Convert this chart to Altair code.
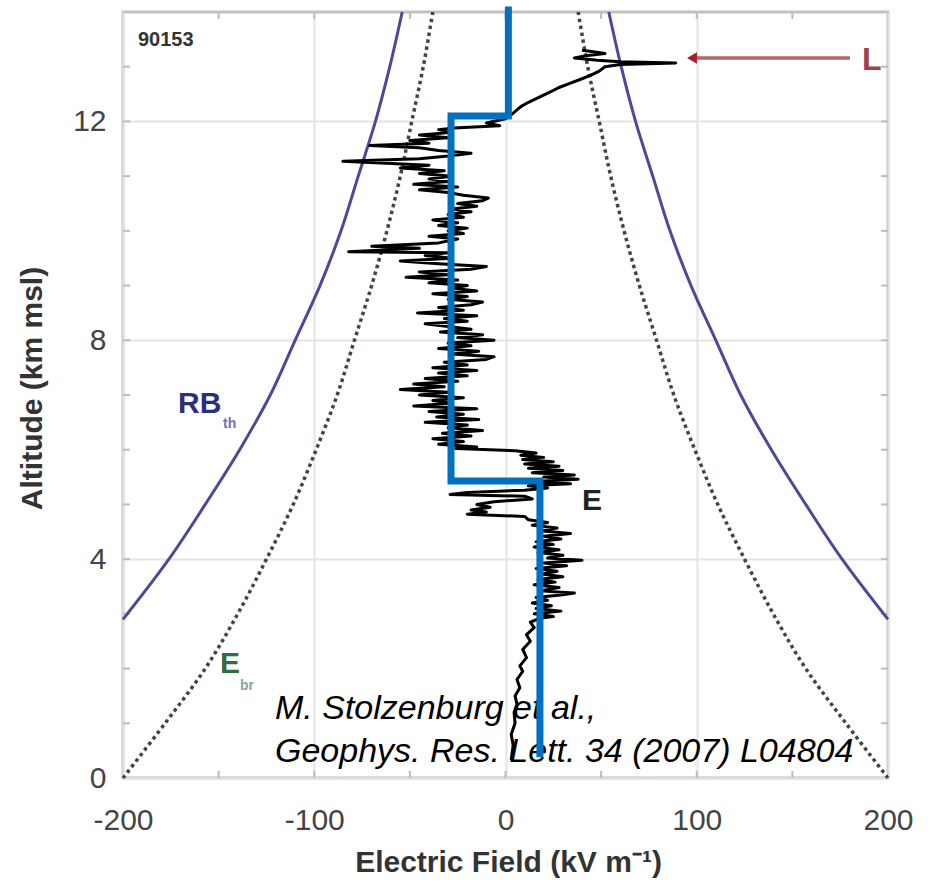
import altair as alt
import pandas as pd

# ---------------- data ----------------
# measured electric-field profile E (altitude km, field kV/m), in flight order
trace_alt = [0.33, 0.6, 0.8, 1.0, 1.2, 1.35, 1.5, 1.65, 1.8, 1.95, 2.05, 2.2, 2.35, 2.5,
             2.62, 2.75, 2.85, 2.92,
             2.95, 3.0, 3.05, 3.1, 3.15, 3.2, 3.25, 3.3, 3.35, 3.38, 3.42, 3.48, 3.53, 3.58, 3.63,
             3.68, 3.73, 3.78, 3.83, 3.88, 3.93, 3.98, 4.02, 4.07, 4.12, 4.17, 4.22, 4.27, 4.32,
             4.37, 4.42, 4.47, 4.52, 4.57, 4.62, 4.67, 4.72,
             4.78, 4.82, 4.86, 4.9, 4.95, 5.0, 5.05, 5.1, 5.15, 5.18, 5.22, 5.26, 5.3,
             5.34, 5.38, 5.42, 5.46, 5.5, 5.54, 5.58, 5.62, 5.66, 5.7, 5.74, 5.78, 5.82, 5.86,
             5.9, 5.94, 5.98, 6.02, 6.05,
             6.1, 6.15, 6.2, 6.25, 6.3, 6.35, 6.4, 6.45, 6.5, 6.55, 6.6, 6.65, 6.7, 6.75, 6.8,
             6.85, 6.9, 6.95, 7.0, 7.05, 7.1, 7.15, 7.2, 7.25, 7.3, 7.35,
             7.4, 7.45, 7.5, 7.55, 7.6, 7.65, 7.7, 7.75, 7.8, 7.85, 7.9, 7.95, 8.0, 8.05, 8.1,
             8.15, 8.2, 8.25, 8.3, 8.35, 8.4, 8.45, 8.5, 8.55, 8.6, 8.65, 8.7, 8.75, 8.8, 8.85,
             8.9, 8.95, 9.0, 9.05, 9.1, 9.15, 9.2, 9.25, 9.3, 9.35, 9.4, 9.45, 9.5, 9.55, 9.6,
             9.62, 9.68, 9.72, 9.78, 9.85, 9.9, 9.95, 10.0, 10.05, 10.1, 10.15, 10.2, 10.25,
             10.3, 10.35, 10.4, 10.45, 10.5, 10.55, 10.6, 10.65, 10.7, 10.75, 10.8, 10.85, 10.9,
             10.95, 11.0, 11.05, 11.1, 11.15, 11.2, 11.27, 11.32, 11.37, 11.42, 11.47, 11.52,
             11.56, 11.6, 11.65, 11.7, 11.75, 11.8, 11.85, 11.88, 11.92, 11.97, 12.05, 12.15,
             12.27, 12.35, 12.45, 12.55, 12.62, 12.7, 12.78, 12.85, 12.92, 13.0, 13.04, 13.07,
             13.09, 13.12, 13.16, 13.2, 13.24, 13.28, 13.3]
trace_field = [3, 4, 3, 5, 4.5, 6, 5, 7.5, 6, 9, 7.5, 11, 9, 13,
               11, 15, 13, 18,
               25, 15, 29, 16, 24, 14, 22, 16, 30, 36, 18, 28, 15, 26, 17,
               30, 19, 27, 16, 32, 20, 40, 22, 30, 17, 28, 15, 25, 16,
               29, 20, 34, 18, 27, 14, 22, 12,
               10, -20, -10, -18, -8, -15, -6, 14, 10, -29, -20, 10, 22,
               12, 34, 15, 38, 20, 36, 14, 30, 12, 28, 10, 25, 9, 20,
               8, 16, 5, -26, -15,
               -35, -22, -38, -18, -33, -12, -30, -20, -42, -14, -36, -22, -40, -15, -48,
               -28, -38, -22, -45, -30, -55, -32, -48, -25, -42, -20,
               -35, -15, -38, -20, -32, -10, -6, -28, -14, -35, -18, -30, -6, -25, -12,
               -34, -18, -30, -42, -20, -32, -15, -46, -22, -35, -18, -12, -30, -20, -38,
               -15, -28, -20, -40, -25, -52, -30, -45, -18, -10, -35, -55, -28, -42, -30,
               -82, -45, -70, -35, -25, -40, -22, -30, -20, -35, -25, -38, -22,
               -30, -18, -28, -15, -25, -12, -9, -22, -30, -45, -25, -48, -30,
               -40, -28, -45, -32, -55, -40, -85, -45, -30, -18, -35, -45,
               -71, -40, -50, -30, -45, -28, -35, -27, -3, -10, 0, 4,
               8, 12, 18, 24, 28, 34, 40, 45, 49, 52, 60, 89,
               60, 48, 36, 42, 52, 45, 40]

# runaway-breakdown threshold RB_th (solid curves, both signs)
rb_alt = [2.9, 4, 5, 6, 7, 8, 9, 10, 11, 12, 13, 14]
rb_left = [-200, -176, -157, -139, -123, -110, -97, -86, -77, -68, -60.5, -54]
rb_right = [200, 176, 157, 139, 123, 110, 97, 86, 77, 68, 60.5, 54]

# conventional breakeven field E_br (dotted curves, both signs)
ebr_alt = [0, 1, 2, 3, 4, 5, 6, 7, 8, 9, 10, 11, 12, 13, 14]
ebr_left = [-200, -178, -157, -140, -125, -111, -99, -88, -79, -70, -62, -55, -49, -43, -38]
ebr_right = [200, 178, 157, 140, 125, 111, 99, 88, 79, 70, 62, 55, 49, 43, 38]

# blue stepped overlay
step_alt = [0.38, 5.43, 5.43, 12.1, 12.1, 14.1]
step_field = [18, 18, -28.5, -28.5, 1.5, 1.5]

# axis ticks
x_labels = [-200, -100, 0, 100, 200]
y_labels = [0, 4, 8, 12]
x_minor = [-150, -100, -50, 0, 50, 100, 150]
y_minor = [1, 2, 3, 4, 5, 6, 7, 8, 9, 10, 11, 12, 13]

# ---------------- tables ----------------
W, H = 765, 766
FONT = "Liberation Sans"

trace_df = pd.DataFrame({"z": trace_alt, "E": trace_field, "i": range(len(trace_alt))})
rb_df = pd.concat([
    pd.DataFrame({"z": rb_alt, "E": rb_left, "side": "left", "i": range(len(rb_alt))}),
    pd.DataFrame({"z": rb_alt, "E": rb_right, "side": "right", "i": range(len(rb_alt))}),
])
ebr_df = pd.concat([
    pd.DataFrame({"z": ebr_alt, "E": ebr_left, "side": "left", "i": range(len(ebr_alt))}),
    pd.DataFrame({"z": ebr_alt, "E": ebr_right, "side": "right", "i": range(len(ebr_alt))}),
])
step_df = pd.DataFrame({"z": step_alt, "E": step_field, "i": range(len(step_alt))})
xm_df = pd.DataFrame({"E": x_minor})
ym_df = pd.DataFrame({"z": y_minor})

xscale = alt.Scale(domain=[-200, 200], nice=False, zero=False)
yscale = alt.Scale(domain=[0, 14], nice=False, zero=False)

xaxis = alt.Axis(values=x_labels, grid=True, gridColor="#e4e4e4", gridWidth=2,
                 domain=False, ticks=False, tickSize=0, labelFlush=False,
                 labelExpr="replace(datum.label, '\u2212', '-')",
                 labelFont=FONT, labelFontSize=30, labelColor="#444444",
                 labelBaseline="middle", labelPadding=42,
                 title="Electric Field (kV m⁻¹)", titleFont=FONT, titleFontSize=30,
                 titleFontWeight="bold", titleColor="#333333",
                 titleX=385, titleY=84, titleAlign="center", titleBaseline="middle")
yaxis = alt.Axis(values=y_labels, grid=True, gridColor="#e4e4e4", gridWidth=2,
                 domain=False, ticks=False, tickSize=0, labelFlush=False,
                 labelFont=FONT, labelFontSize=30, labelColor="#444444",
                 labelPadding=17,
                 title="Altitude (km msl)", titleFont=FONT, titleFontSize=30,
                 titleFontWeight="bold", titleColor="#333333",
                 titleX=-91, titleY=376, titleAngle=270, titleAlign="center",
                 titleBaseline="middle")

X = alt.X("E:Q", scale=xscale, axis=xaxis)
Y = alt.Y("z:Q", scale=yscale, axis=yaxis)

# minor ticks on all four sides
tick_style = dict(color="#bdbdbd", strokeWidth=2)
xt_bottom = alt.Chart(xm_df).mark_rule(**tick_style).encode(x=X, y=alt.value(H - 7), y2=alt.value(H))
xt_top = alt.Chart(xm_df).mark_rule(**tick_style).encode(x=X, y=alt.value(0), y2=alt.value(7))
yt_left = alt.Chart(ym_df).mark_rule(**tick_style).encode(y=Y, x=alt.value(0), x2=alt.value(7))
yt_right = alt.Chart(ym_df).mark_rule(**tick_style).encode(y=Y, x=alt.value(W - 7), x2=alt.value(W))

rb_lines = alt.Chart(rb_df).mark_line(color="#4a4a98", strokeWidth=3,
                                      interpolate="catmull-rom").encode(
    x=X, y=Y, detail="side:N", order="i:Q")
ebr_lines = alt.Chart(ebr_df).mark_line(color="#3c4a3e", strokeWidth=3.5, interpolate="catmull-rom",
                                        strokeDash=[3.5, 3.5], strokeCap="butt").encode(
    x=X, y=Y, detail="side:N", order="i:Q")
trace = alt.Chart(trace_df).mark_line(color="#000000", strokeWidth=3, strokeJoin="round").encode(
    x=X, y=Y, order="i:Q")
step = alt.Chart(step_df).mark_line(color="#0070c0", strokeWidth=7, strokeJoin="miter",
                                    strokeCap="butt", clip=False).encode(x=X, y=Y, order="i:Q")

# annotations (pixel positions inside the plot area)
def label(text, x, y, size, color, weight="normal", style="normal", baseline="alphabetic"):
    return alt.Chart(pd.DataFrame({"t": [text]})).mark_text(
        align="left", baseline=baseline, font=FONT, fontSize=size, color=color,
        fontWeight=weight, fontStyle=style).encode(text="t:N", x=alt.value(x), y=alt.value(y))

arrow_line = alt.Chart(pd.DataFrame({"a": [0]})).mark_rule(color="#b86464", strokeWidth=3.5).encode(
    x=alt.value(570), x2=alt.value(727), y=alt.value(46))
arrow_head = alt.Chart(pd.DataFrame({"a": [0]})).mark_point(
    shape="triangle-left", filled=True, color="#a81c2c", size=130, opacity=1).encode(
    x=alt.value(569), y=alt.value(46))

texts = [
    label("90153", 15, 34, 20, "#333333", weight="bold"),
    label("RB", 55, 401, 30, "#2d2d7d", weight="bold"),
    label("th", 100, 416, 14, "#7070b0", weight="bold"),
    label("E", 97, 661, 30, "#2f6e3c", weight="bold"),
    label("br", 117, 678, 14, "#88a890", weight="bold"),
    label("E", 459, 498, 30, "#222222", weight="bold"),
    label("L", 739, 58, 32, "#a0404c", weight="bold"),
    label("M. Stolzenburg et al.,", 152, 707, 34, "#000000", style="italic"),
    label("Geophys. Res. Lett. 34 (2007) L04804", 152, 750, 34, "#000000", style="italic"),
]

chart = alt.layer(
    xt_bottom, xt_top, yt_left, yt_right,
    rb_lines, ebr_lines, trace, *texts, arrow_line, arrow_head, step,
).properties(
    width=W, height=H,
    autosize=alt.AutoSizeParams(type="none"),
    padding={"left": 123, "top": 12, "right": 40, "bottom": 105},
    background="white",
).configure_view(stroke="#c2c2c2", strokeWidth=3)

chart.save("out.html", embed_options={"renderer": "svg", "actions": False})
